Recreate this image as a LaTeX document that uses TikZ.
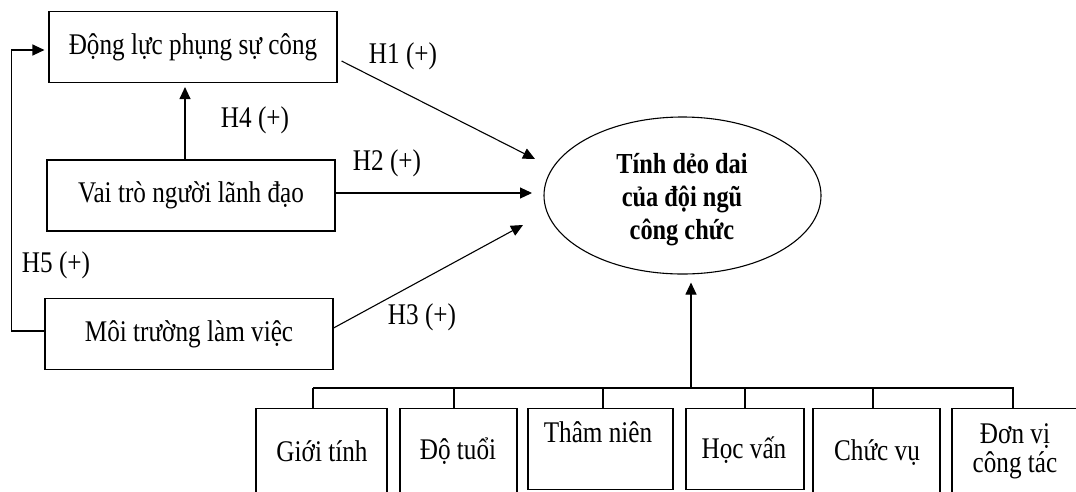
\documentclass[tikz,border=0pt]{standalone}
\usepackage{fontspec}
\setmainfont{Liberation Serif}[FakeStretch=0.84]
\usetikzlibrary{arrows.meta,shapes.geometric,calc}
\begin{document}
\begin{tikzpicture}[x=1pt,y=-1pt,
  line width=1.1pt,
  every node/.style={font=\fontsize{30}{34}\selectfont, inner sep=0pt},
  varbox/.style={draw, minimum width=288pt, minimum height=71pt},
  ctlbox/.style={draw, anchor=north},
  tip/.style={-{Triangle[length=12pt,width=11pt]}},
  hlabel/.style={}]
\useasboundingbox (0,0) rectangle (1076,491);
\clip (0,0) rectangle (1076,491);
\fill[white] (0,0) rectangle (1076,491);

% main boxes
\node[varbox] (n1) at (193,47) {Động lực phụng sự công};
\node[varbox] (n2) at (191,195.5) {Vai trò người lãnh đạo};
\node[varbox] (n3) at (189,334) {Môi trường làm việc};

% outcome ellipse
\node[draw, ellipse, minimum width=277pt, minimum height=157pt] (el) at (682.5,195.5) {};
\node[font=\fontsize{29}{33}\selectfont\bfseries, align=center] (elt) at (682,200) {Tính dẻo dai\\của đội ngũ\\công chức};

% arrow tip points
\coordinate (t1) at (535,159);
\coordinate (t2) at (532,193);
\coordinate (t3) at (523,225);

% connectors
\draw[tip] ([xshift=4pt,yshift=-14pt]n1.east) -- (t1);
\draw[tip] ([yshift=2.5pt]n2.east) -- (t2);
\draw[tip] ([yshift=6pt]n3.east) -- (t3);
\draw[tip, shorten >=4pt] ([xshift=-6pt]n2.north) -- ([xshift=-6pt]n2.north |- n1.south);
\draw[tip, shorten >=4pt] ([yshift=3pt]n3.west) -- ++(-33,0) |- ([yshift=-3pt]n1.west);

% labels
\node (h1) at (403,56) {H1 (+)};
\node (h2) at (387,163) {H2 (+)};
\node (h3) at (422,317) {H3 (+)};
\node (h4) at (255,120) {H4 (+)};
\node (h5) at (56,265) {H5 (+)};

% control boxes
\node[ctlbox, minimum width=131pt, minimum height=100pt] (g1) at (321.5,408) {};
\node[ctlbox, minimum width=117pt, minimum height=100pt] (g2) at (458.5,408) {};
\node[ctlbox, minimum width=145pt, minimum height=81pt] (g3) at (600.5,408) {};
\node[ctlbox, minimum width=118pt, minimum height=81pt] (g4) at (745,408) {};
\node[ctlbox, minimum width=127pt, minimum height=100pt] (g5) at (876.5,408) {};
\node[ctlbox, minimum width=138pt, minimum height=100pt] (g6) at (1021,408) {};

\node (g1t) at (322,451) {Giới tính};
\node (g2t) at (458,451) {Độ tuổi};
\node (g3t) at (598,432) {Thâm niên};
\node (g4t) at (744,450) {Học vấn};
\node (g5t) at (877,453) {Chức vụ};
\node[align=center, font=\fontsize{30}{29}\selectfont] (g6t) at (1015,451) {Đơn vị\\công tác};

% bus
\coordinate (busL) at (313,388);
\coordinate (busR) at (1014,388);
\coordinate (busM) at (691,388);
\draw (busL) -- (busR);
\draw ([xshift=-8.5pt]g1.north) -- ([xshift=-8.5pt]g1.north |- busL);
\draw ([xshift=-4.5pt]g2.north) -- ([xshift=-4.5pt]g2.north |- busL);
\draw ([xshift=2.5pt]g3.north) -- ([xshift=2.5pt]g3.north |- busL);
\draw (g4.north) -- (g4.north |- busL);
\draw ([xshift=-3.5pt]g5.north) -- ([xshift=-3.5pt]g5.north |- busL);
\draw ([xshift=-8pt]g6.north) -- ([xshift=-8pt]g6.north |- busL);
\draw[tip, shorten >=8pt] (busM) -- (busM |- el.south);
\end{tikzpicture}
\end{document}
